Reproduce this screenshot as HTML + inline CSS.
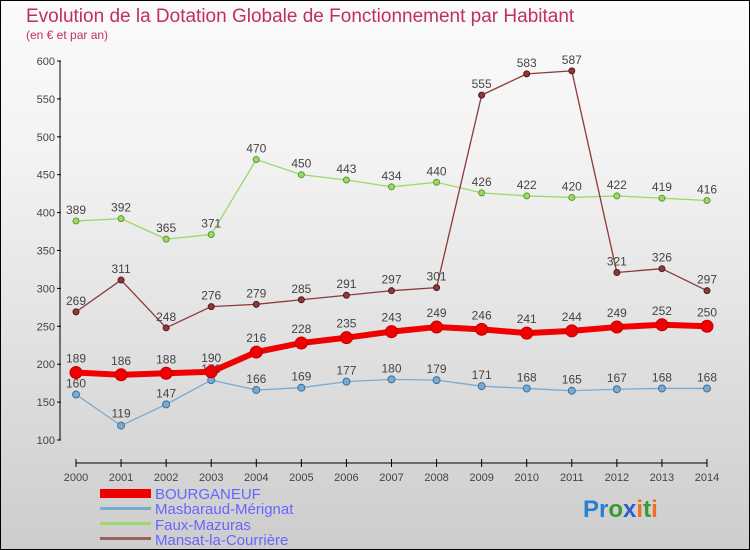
<!DOCTYPE html>
<html><head><meta charset="utf-8"><style>
body{margin:0;width:750px;height:550px;overflow:hidden;font-family:"Liberation Sans",sans-serif}
#c{position:absolute;left:0;top:0;width:748px;height:548px;border:1px solid #000;background:linear-gradient(#fbfbfb,#f2f2f2 30%,#cdcdcd)}
</style></head><body>
<div id="c">
<svg id="s" width="750" height="550" style="position:absolute;left:-1px;top:-1px" font-family="Liberation Sans, sans-serif">
<text x="26" y="22" font-size="19" fill="#c0305a">Evolution de la Dotation Globale de Fonctionnement par Habitant</text>
<text x="26" y="39" font-size="12" fill="#c0305a">(en € et par an)</text>
<g id="axes"></g><g id="series"></g>
<g>
<rect x="100" y="489" width="51" height="9" fill="#e00"/>
<text x="155" y="499" font-size="15" fill="#6666ff">BOURGANEUF</text>
<rect x="100" y="507" width="51" height="3" fill="#7aaad0"/>
<text x="155" y="514" font-size="15" fill="#6666ff">Masbaraud-Mérignat</text>
<rect x="100" y="522" width="51" height="3" fill="#9ed86a"/>
<text x="155" y="530" font-size="15" fill="#6666ff">Faux-Mazuras</text>
<rect x="100" y="537" width="51" height="3" fill="#9a6060"/>
<text x="155" y="545" font-size="15" fill="#6666ff">Mansat-la-Courrière</text>
</g>
<text x="583" y="517" font-size="24" font-weight="bold"><tspan fill="#2a7fd0">Pr</tspan><tspan fill="#3a9a30">o</tspan><tspan fill="#2a5fd0">x</tspan><tspan fill="#f07020">i</tspan><tspan fill="#3a9a30">t</tspan><tspan fill="#f07020">i</tspan></text>
</svg></div>
<script>
const years=[2000,2001,2002,2003,2004,2005,2006,2007,2008,2009,2010,2011,2012,2013,2014];
const yTicks=[100,150,200,250,300,350,400,450,500,550,600];
const bourganeuf=[189,186,188,190,216,228,235,243,249,246,241,244,249,252,250];
const masbaraud=[160,119,147,179,166,169,177,180,179,171,168,165,167,168,168];
const fauxMazuras=[389,392,365,371,470,450,443,434,440,426,422,420,422,419,416];
const mansat=[269,311,248,276,279,285,291,297,301,555,583,587,321,326,297];
const NS="http://www.w3.org/2000/svg";
const xS=i=>76+i*(707-76)/14;
const yS=v=>440-(v-100)*(440-61)/500;
function mk(t,a,p){const e=document.createElementNS(NS,t);for(const k in a)e.setAttribute(k,a[k]);p.appendChild(e);return e;}
const ax=document.getElementById('axes');
let l=mk('line',{x1:60,y1:yS(600),x2:60,y2:yS(100),stroke:'#000','stroke-width':1},ax);

yTicks.forEach(v=>{mk('line',{x1:57,x2:61,y1:yS(v),y2:yS(v),stroke:'#000'},ax);
let t=mk('text',{x:55,y:yS(v)+4,'font-size':11,fill:'#444','text-anchor':'end'},ax);t.textContent=v;
});
l=mk('line',{x1:xS(0),x2:xS(14),y1:463,y2:463,stroke:'#000'},ax);

years.forEach((y,i)=>{mk('line',{x1:xS(i),x2:xS(i),y1:459,y2:467,stroke:'#000'},ax);
let t=mk('text',{x:xS(i),y:481,'font-size':11,fill:'#444','text-anchor':'middle'},ax);t.textContent=y;
});
const sg=document.getElementById('series');
function draw(data,name,col,dark,w,r,labelOffset){
 const g=mk('g',{},sg);
 const p=mk('polyline',{points:data.map((v,i)=>xS(i)+','+yS(v)).join(' '),fill:'none',stroke:col,'stroke-width':w,'stroke-linejoin':'round'},g);
 
 data.forEach((v,i)=>{const c=mk('circle',{cx:xS(i),cy:yS(v),r:r,fill:col,stroke:dark,'stroke-width':1},g);
 
 const t=mk('text',{x:xS(i),y:yS(v)+labelOffset(i,v),'font-size':12,fill:'#444','text-anchor':'middle'},g);t.textContent=v;
 });
}
draw(fauxMazuras,'faux-mazuras','#9ed86a','#5a9a30',1.3,3,()=>-7);
draw(mansat,'mansat','#8a3a3a','#5a1a1a',1.3,3,(i)=>(i==2||i==14)?-7:-7);
draw(masbaraud,'masbaraud','#7aaad0','#3a70a0',1.3,3.5,(i)=>i==1?-8:(i==0||i==3?-7:-7));
draw(bourganeuf,'bourganeuf','#f00000','#c00000',6,6,()=>-10);
</script>
</body></html>
